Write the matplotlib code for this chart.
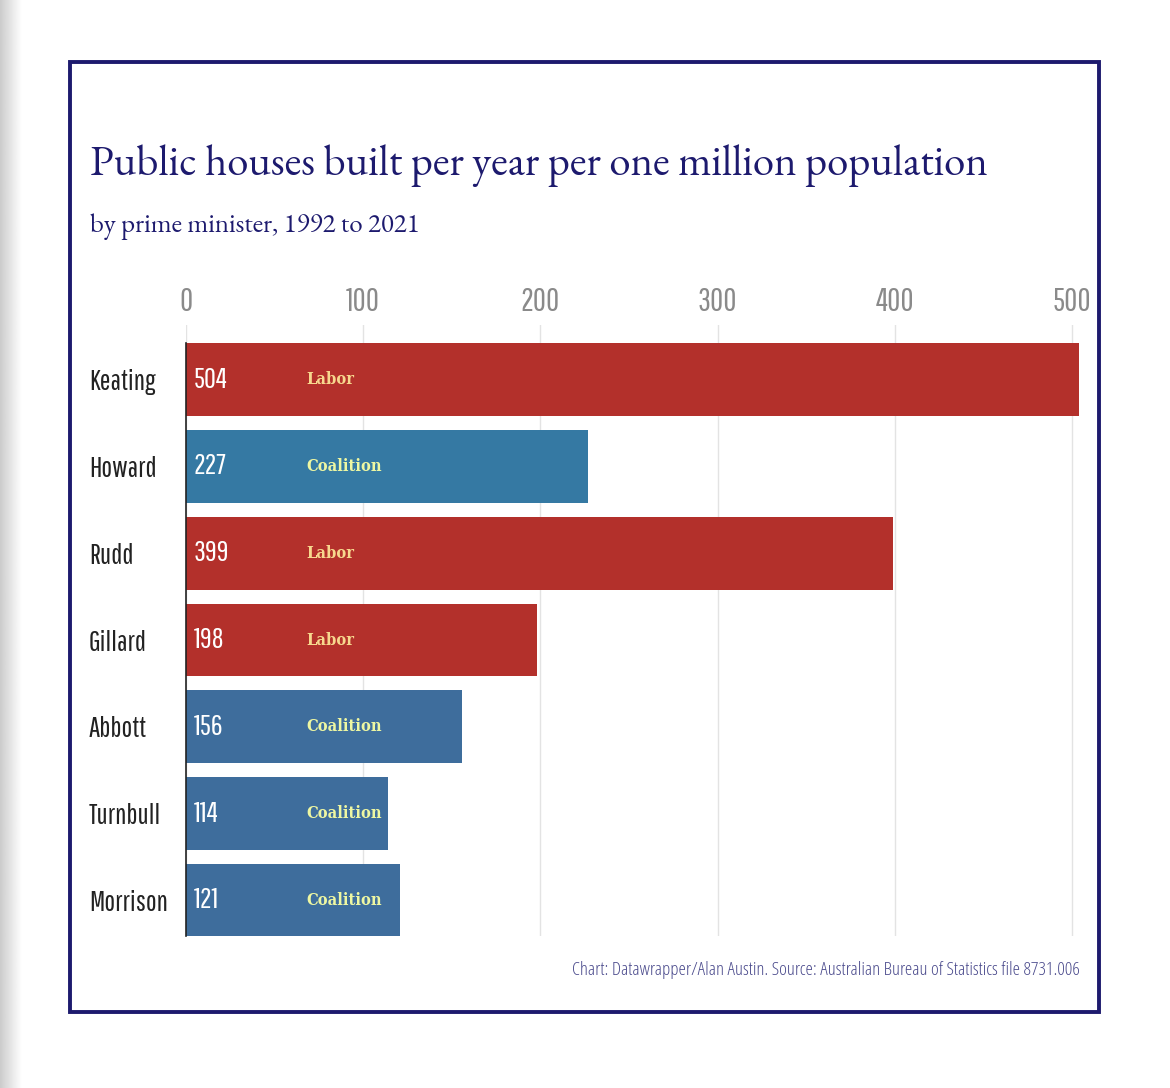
import numpy as np
import matplotlib
matplotlib.use("Agg")
import matplotlib.pyplot as plt
from matplotlib.patches import Rectangle

# data
pms = ["Keating", "Howard", "Rudd", "Gillard", "Abbott", "Turnbull", "Morrison"]
houses = [504, 227, 399, 198, 156, 114, 121]
party = ["Labor", "Coalition", "Labor", "Labor", "Coalition", "Coalition", "Coalition"]
bar_colors = ["#b3302b", "#3579a3", "#b3302b", "#b3302b", "#3e6d9c", "#3e6d9c", "#3e6d9c"]
ticks = [0, 100, 200, 300, 400, 500]

party_text = {"Labor": "#f7d88e", "Coalition": "#eef7a2"}
navy = "#1d1a6e"
sans = "Pathway Gothic One"
W, H = 1170, 1088

fig = plt.figure(figsize=(W / 100, H / 100), dpi=100)
renderer = fig.canvas.get_renderer()


def fit_width(t, px):
    # scale a text's size so it spans about px pixels, return the new size
    w = t.get_window_extent(renderer).width
    t.set_fontsize(t.get_fontsize() * px / w)
    return t.get_fontsize()


# gray strip at the far left
strip = fig.add_axes([0, 0, 22 / W, 1])
strip.imshow(np.linspace(0.80, 1.0, 50)[None, :], cmap="gray", vmin=0, vmax=1,
             aspect="auto", extent=[0, 1, 0, 1])
strip.axis("off")

# navy frame
fig.patches.append(Rectangle((70 / W, 1 - 1012 / H), (1099 - 70) / W, (1012 - 62) / H,
                             transform=fig.transFigure, fill=False,
                             edgecolor=navy, lw=2.8, zorder=0))

ax = fig.add_axes([186 / W, 1 - 936 / H, (1079 - 186) / W, (936 - 325) / H])
y = np.arange(len(pms))
ax.barh(y, houses, height=0.84, color=bar_colors, zorder=2)
ax.set_xlim(0, 504)
ax.set_ylim(6.409, -0.628)

ax.xaxis.tick_top()
ax.set_xticks(ticks)
ax.set_xticklabels([str(t) for t in ticks], family=sans, fontsize=23, color="#8a8a8a")
ax.tick_params(axis="x", length=0, pad=6)
ax.grid(axis="x", color="#e3e3e3", lw=1, zorder=0)

ax.set_yticks(y)
ax.set_yticklabels(pms, family=sans, fontsize=20.5, color="#222222")
ax.tick_params(axis="y", length=0, pad=70)
for lab in ax.get_yticklabels():
    lab.set_horizontalalignment("left")

for s in ["top", "right", "bottom"]:
    ax.spines[s].set_visible(False)
ax.spines["left"].set_bounds(-0.42, 6.409)
ax.spines["left"].set_color("#222222")
ax.spines["left"].set_linewidth(1.2)
ax.spines["left"].set_zorder(3)

party_size = None
for yi, v, p in zip(y, houses, party):
    ax.text(4.5, yi, str(v), va="center", ha="left", family=sans, fontsize=21,
            color="white", zorder=4)
    pt = ax.text(68, yi, p, va="center", ha="left", family="DejaVu Serif",
                 fontstretch="condensed", fontweight="bold", fontsize=14,
                 color=party_text[p], zorder=4)
    if party_size is None and p == "Coalition":
        party_size = fit_width(pt, 76)
for t in ax.texts:
    if t.get_text() in party_text:
        t.set_fontsize(party_size)

title = fig.text(90 / W, 1 - 175 / H, "Public houses built per year per one million population",
                 family="EB Garamond", fontsize=40, color=navy, ha="left", va="baseline")
fit_width(title, 900)
sub = fig.text(90 / W, 1 - 232 / H, "by prime minister, 1992 to 2021",
               family="EB Garamond", fontsize=30, color=navy, ha="left", va="baseline")
fit_width(sub, 330)
foot = fig.text(1080 / W, 1 - 975 / H,
                "Chart: Datawrapper/Alan Austin. Source: Australian Bureau of Statistics file 8731.006",
                family="Open Sans", fontstretch="condensed", fontsize=14,
                color="#4a4a8c", ha="right", va="baseline")
fit_width(foot, 510)

fig.savefig("out.png", dpi=100, facecolor="white")
